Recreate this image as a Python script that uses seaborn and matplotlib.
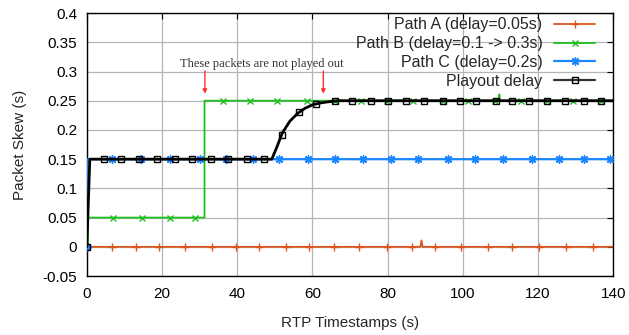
"""
Packet skew per path vs. RTP timestamp, with the playout delay curve.
"""

import matplotlib
matplotlib.use("Agg")
import matplotlib.pyplot as plt
from matplotlib.lines import Line2D
import seaborn as sns

# --- data ------------------------------------------------------------------
# Path A: flat at 0 with one small spike near 89 s
path_a_t = [0, 88.7, 89.0, 89.3, 140]
path_a_y = [0, 0, 0.011, 0, 0]
path_a_mark_t = [0, 6.8, 13.2, 19.2, 26.1, 33.2, 39.8, 45.9, 53.1, 59.2, 65.7,
                 72.4, 79.8, 86.4, 92.7, 99.5, 106.8, 113.0, 120.2, 127.4, 134.7]
path_a_mark_y = [0] * len(path_a_mark_t)

# Path B: 0.05 s until ~31 s, then 0.25 s (spike near 109.7 s)
path_b_t = [0, 0.3, 0.3, 31.3, 31.3, 109.5, 109.7, 109.9, 140]
path_b_y = [0, 0, 0.05, 0.05, 0.25, 0.25, 0.261, 0.25, 0.25]
path_b_mark_t = [6.9, 14.7, 22.1, 28.9, 36.3, 43.5, 50.7, 58.5, 66.0, 73.0,
                 79.8, 86.8, 94.6, 101.4, 108.5, 115.4, 122.4, 129.4, 136.7]
path_b_mark_y = [0.05, 0.05, 0.05, 0.05] + [0.25] * 15

# Path C: constant 0.15 s
path_c_t = [0, 0.2, 140]
path_c_y = [0, 0.15, 0.15]
path_c_mark_t = [0, 6.8, 14.4, 22.0, 30.0, 37.0, 44.1, 51.2, 58.7, 66.1, 73.4,
                 81.0, 88.1, 96.1, 103.2, 110.6, 118.3, 125.7, 132.1, 139.2]
path_c_mark_y = [0] + [0.15] * 19

# Playout delay: follows 0.15 s, then ramps to 0.25 s after the change
playout_t = [0, 0.8, 49.2, 50.5, 52.0, 54.0, 56.0, 58.0, 60.0, 62.0, 64.0, 67.0, 140]
playout_y = [0, 0.15, 0.15, 0.17, 0.195, 0.215, 0.228, 0.237, 0.243, 0.246,
             0.248, 0.25, 0.25]
playout_mark_t = [0, 4.5, 9.2, 14.0, 18.8, 23.4, 28.1, 33.0, 37.6, 42.6, 47.2,
                  51.8, 56.5, 61.0, 66.1, 70.5, 75.5, 80.1, 84.8, 89.7, 94.6,
                  99.2, 103.6, 108.8, 113.0, 117.7, 122.5, 127.2, 132.1, 136.7]
playout_mark_y = ([0] + [0.15] * 10 + [0.191, 0.23, 0.245] + [0.25] * 16)

x_ticks = [0, 20, 40, 60, 80, 100, 120, 140]
y_ticks = [-0.05, 0, 0.05, 0.1, 0.15, 0.2, 0.25, 0.3, 0.35, 0.4]
y_tick_labels = ["-0.05", "0", "0.05", "0.1", "0.15", "0.2", "0.25", "0.3", "0.35", "0.4"]

labels = ["Path A (delay=0.05s)", "Path B (delay=0.1 -> 0.3s)",
          "Path C (delay=0.2s)", "Playout delay"]
note = "These packets are not played out"
arrow_t = [31.4, 62.9]

# --- plot -------------------------------------------------------------------
sns.set_style("white")
plt.rcParams["font.family"] = ["Liberation Sans", "DejaVu Sans"]

c_a, c_b, c_c, c_p = "#d9561c", "#1fbf1f", "#1a86ff", "black"
asterisk = (8, 2, 0)

fig = plt.figure(figsize=(6.29, 3.35), dpi=100)
ax = fig.add_axes([0.138, 0.176, 0.837, 0.785])

series = [
    (path_a_t, path_a_y, path_a_mark_t, path_a_mark_y, c_a, "+", 1.3, 6, 2),
    (path_b_t, path_b_y, path_b_mark_t, path_b_mark_y, c_b, "x", 1.3, 4.6, 3),
    (path_c_t, path_c_y, path_c_mark_t, path_c_mark_y, c_c, asterisk, 1.6, 6, 4),
    (playout_t, playout_y, playout_mark_t, playout_mark_y, c_p, "s", 2.0, 4.5, 5),
]
for t, y, mt, my, col, mk, lw, ms, z in series:
    sns.lineplot(x=t, y=y, ax=ax, color=col, lw=lw, estimator=None, sort=False,
                 legend=False, zorder=z)
    sns.lineplot(x=mt, y=my, ax=ax, linestyle="none", marker=mk, markersize=ms,
                 markeredgecolor=col, markerfacecolor="none", markeredgewidth=1.0,
                 estimator=None, sort=False, legend=False, zorder=z)

ax.set_xlim(0, 140)
ax.set_ylim(-0.05, 0.4)
ax.set_xticks(x_ticks)
ax.set_yticks(y_ticks)
ax.set_yticklabels(y_tick_labels)
ax.grid(True, color="#b5b5b5", lw=0.9)
ax.tick_params(direction="in", length=4, width=0.8, top=True, right=True,
               labelsize=11, colors="black")
ax.tick_params(axis="y", pad=7)
ax.tick_params(axis="x", pad=8)
for s in ax.spines.values():
    s.set_color("black")
    s.set_linewidth(1.0)
ax.set_xlabel("RTP Timestamps (s)", fontsize=11, labelpad=11)
ax.set_ylabel("Packet Skew (s)", fontsize=11, labelpad=11)

# annotation
ax.text(46.5, 0.3125, note, family=["Liberation Serif", "DejaVu Serif"],
        fontsize=9, color="#333333", ha="center", va="center", zorder=6)
for t in arrow_t:
    ax.annotate("", xy=(t, 0.262), xytext=(t, 0.301),
                arrowprops=dict(arrowstyle="-|>", color="#ff3030", lw=1.0,
                                mutation_scale=6, shrinkA=0, shrinkB=0), zorder=6)

handles = [
    Line2D([], [], color=c_a, lw=1.3, marker="+", markersize=6),
    Line2D([], [], color=c_b, lw=1.3, marker="x", markersize=4.6),
    Line2D([], [], color=c_c, lw=1.6, marker=asterisk, markersize=6),
    Line2D([], [], color="#333333", lw=1.6, marker="s", markersize=4.5,
           markerfacecolor="none", markeredgecolor="black"),
]
leg = ax.legend(handles, labels, loc="upper right", bbox_to_anchor=(0.984, 1.02),
                frameon=False, markerfirst=False, fontsize=11.5,
                handlelength=2.6, handletextpad=0.7, labelspacing=0.24,
                borderaxespad=0.2)
leg.set_zorder(10)

fig.savefig("out.png", dpi=100)
